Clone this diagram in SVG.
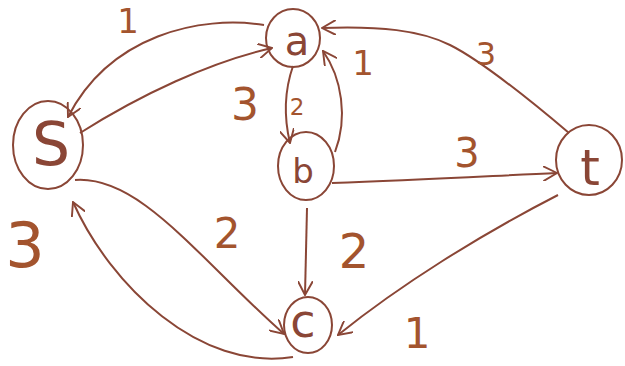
<svg xmlns="http://www.w3.org/2000/svg" width="625" height="366" viewBox="0 0 625 366">
<defs>
<marker id="ah" viewBox="0 0 14 14" refX="13" refY="7" markerWidth="15" markerHeight="15" markerUnits="userSpaceOnUse" orient="auto">
<path d="M0,0 L13,7 L0,14" fill="none" stroke="#8a4636" stroke-width="1.8"/>
</marker>
<style>
.n{fill:none;stroke:#8a4636;stroke-width:2}
.e{fill:none;stroke:#8a4636;stroke-width:2;marker-end:url(#ah)}
.nl{font-family:"DejaVu Sans","Liberation Sans",sans-serif;fill:#8a4636;text-anchor:middle}
.w{font-family:"DejaVu Sans","Liberation Sans",sans-serif;fill:#a3542e;text-anchor:middle}
</style>
</defs>
<rect width="625" height="366" fill="#ffffff"/>
<g id="connectors">
<path class="e" d="M264,25 C200,15 110,35 68,117"/>
<path class="e" d="M80,133 C140,95 210,62 272,48"/>
<path class="e" d="M293,66 C284,92 284,118 290,143"/>
<path class="e" d="M335,152 C348,118 342,78 323,51"/>
<path class="e" d="M569,133 C530,100 480,60 450,45 C420,30 380,26 322,28"/>
<path class="e" d="M332,183 C420,180 490,176 557,173"/>
<path class="e" d="M307,208 L305,295"/>
<path class="e" d="M558,195 C480,235 400,285 338,335"/>
<path class="e" d="M75,180 C140,175 200,260 284,334"/>
<path class="e" d="M293,357 C200,372 110,285 73,202"/>
</g>
<g id="labels">
<text class="w" x="128" y="33" font-size="34">1</text>
<text class="w" x="245" y="120" font-size="44">3</text>
<text class="w" x="297" y="115" font-size="23">2</text>
<text class="w" x="363" y="75" font-size="34">1</text>
<text class="w" x="486" y="65" font-size="32">3</text>
<text class="w" x="467" y="167" font-size="40">3</text>
<text class="w" x="354" y="268" font-size="48">2</text>
<text class="w" x="417" y="348" font-size="42">1</text>
<text class="w" x="227" y="248" font-size="42">2</text>
<text class="w" x="25" y="267" font-size="62">3</text>
</g>
<g id="node-S">
<ellipse class="n" cx="48" cy="145" rx="35" ry="44"/>
<text class="nl" x="51" y="165" font-size="60">S</text>
</g>
<g id="node-a">
<ellipse class="n" cx="293" cy="38" rx="27" ry="29"/>
<text class="nl" x="297" y="55" font-size="40">a</text>
</g>
<g id="node-b">
<ellipse class="n" cx="306" cy="166" rx="28" ry="34"/>
<text class="nl" x="303" y="183" font-size="34">b</text>
</g>
<g id="node-t">
<ellipse class="n" cx="589" cy="160" rx="33" ry="35"/>
<text class="nl" x="590" y="185" font-size="50">t</text>
</g>
<g id="node-c">
<ellipse class="n" cx="308" cy="325" rx="24" ry="28"/>
<text class="nl" x="303" y="337" font-size="46">c</text>
</g>
</svg>
